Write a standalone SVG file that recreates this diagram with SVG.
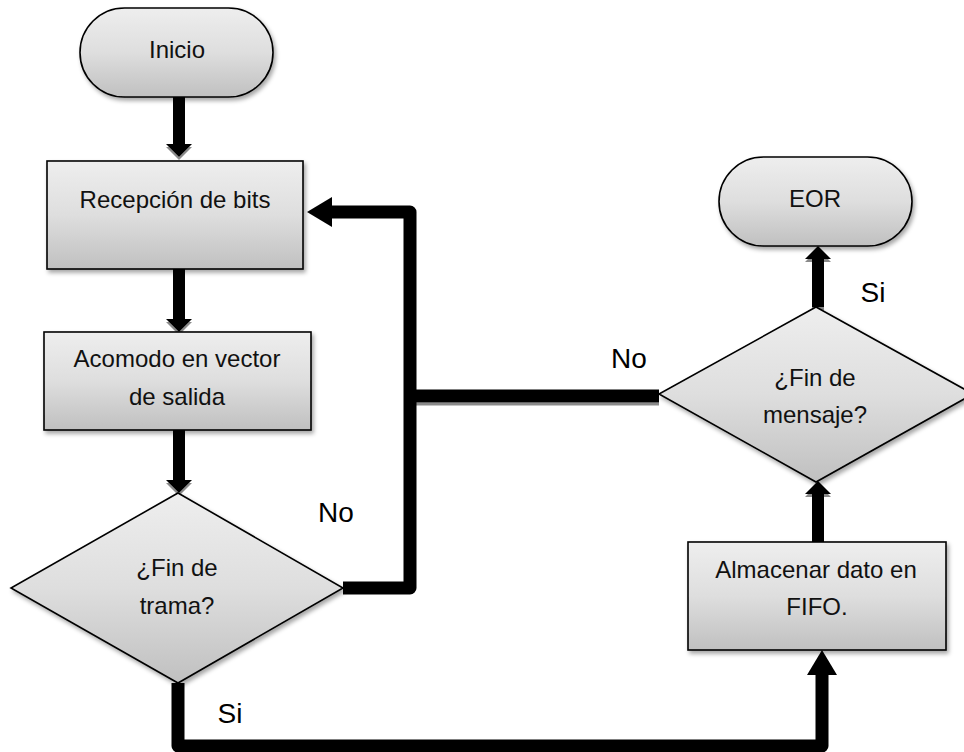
<svg xmlns="http://www.w3.org/2000/svg" width="964" height="752" viewBox="0 0 964 752">
  <style>
    .shape { fill: url(#grad); stroke: #000; stroke-width: 1.6; filter: url(#boxShadow); }
    .txt { font-family: "Liberation Sans", Arial, sans-serif; font-size: 24px; fill: #111; text-anchor: middle; }
    .lbl { font-family: "Liberation Sans", Arial, sans-serif; font-size: 28px; fill: #000; text-anchor: middle; }
    .conn { fill: none; stroke: #000; stroke-linejoin: round; }
    .thin { stroke-width: 12; }
    .thick { stroke-width: 13; }
    .sh { filter: url(#lineShadow); }
  </style>
  <defs>
    <linearGradient id="grad" x1="0" y1="0" x2="0" y2="1">
      <stop offset="0" stop-color="#eeeeee"/>
      <stop offset="0.5" stop-color="#dedede"/>
      <stop offset="1" stop-color="#c0c0c0"/>
    </linearGradient>
    <filter id="boxShadow" x="-10%" y="-10%" width="125%" height="130%">
      <feDropShadow dx="2" dy="3" stdDeviation="2" flood-color="#000" flood-opacity="0.35"/>
    </filter>
    <filter id="lineShadow" filterUnits="userSpaceOnUse" x="0" y="0" width="964" height="752">
      <feDropShadow dx="0" dy="3" stdDeviation="0.4" flood-color="#8a8a8a" flood-opacity="1"/>
    </filter>
    <marker id="headS" markerUnits="userSpaceOnUse" markerWidth="14" markerHeight="26" viewBox="0 0 14 26" refX="0" refY="13" orient="auto">
      <path d="M0,0 L13,13 L0,26 Z" fill="#000"/>
    </marker>
    <marker id="headL" markerUnits="userSpaceOnUse" markerWidth="26" markerHeight="30" viewBox="0 0 26 30" refX="0" refY="15" orient="auto">
      <path d="M0,0 L25,15 L0,30 Z" fill="#000"/>
    </marker>
  </defs>

  <rect width="964" height="752" fill="#fff"/>

  <g id="connectors">
    <path class="conn thin sh" d="M179,97 V144" marker-end="url(#headS)"/>
    <path class="conn thin sh" d="M179,269 V319" marker-end="url(#headS)"/>
    <path class="conn thin sh" d="M179,430 V480" marker-end="url(#headS)"/>
    <path class="conn thick sh" d="M659,396 H412"/>
    <path class="conn thick" d="M343,588 H410 V212 H332" marker-end="url(#headL)"/>
    <path class="conn thick" d="M178,683 V746 H822 V675" marker-end="url(#headL)"/>
    <path class="conn thin sh" d="M818,542 V494" marker-end="url(#headS)"/>
    <path class="conn thin sh" d="M818,307 V259" marker-end="url(#headS)"/>
  </g>

  <g id="inicio">
    <rect class="shape" x="80" y="8" width="193" height="89" rx="44.5" ry="44.5"/>
    <text class="txt" x="177" y="58">Inicio</text>
  </g>

  <g id="recepcion">
    <rect class="shape" x="47" y="161" width="256" height="108"/>
    <text class="txt" x="175" y="208">Recepción de bits</text>
  </g>

  <g id="acomodo">
    <rect class="shape" x="44" y="332" width="267" height="98"/>
    <text class="txt" x="177" y="367">Acomodo en vector</text>
    <text class="txt" x="177" y="405">de salida</text>
  </g>

  <g id="fin-trama">
    <polygon class="shape" points="178,493 343,588 178,683 11,588"/>
    <text class="txt" x="177" y="576">¿Fin de</text>
    <text class="txt" x="177" y="614">trama?</text>
  </g>

  <g id="eor">
    <rect class="shape" x="719" y="157" width="193" height="89" rx="44.5" ry="44.5"/>
    <text class="txt" x="815" y="207">EOR</text>
  </g>

  <g id="fin-mensaje">
    <polygon class="shape" points="816,307 973,394 816,482 659,394"/>
    <text class="txt" x="815" y="386">¿Fin de</text>
    <text class="txt" x="815" y="423">mensaje?</text>
  </g>

  <g id="almacenar">
    <rect class="shape" x="688" y="542" width="258" height="108"/>
    <text class="txt" x="816" y="578">Almacenar dato en</text>
    <text class="txt" x="817" y="615">FIFO.</text>
  </g>

  <g id="labels">
    <text class="lbl" x="336" y="522">No</text>
    <text class="lbl" x="629" y="368">No</text>
    <text class="lbl" x="873" y="302">Si</text>
    <text class="lbl" x="230" y="723">Si</text>
  </g>
</svg>
